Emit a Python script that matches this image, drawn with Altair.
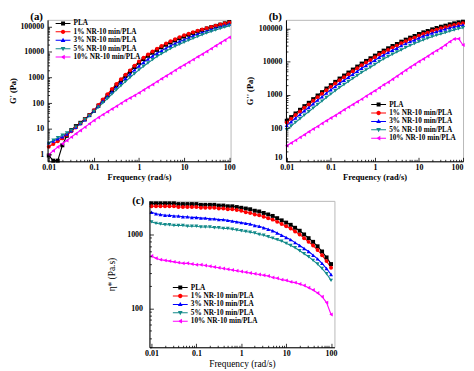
import altair as alt
import pandas as pd

SERIF = "Liberation Serif"

# ---------------- data (log10 units) ----------------
FREQ = [0.01, 0.0126, 0.0158, 0.02, 0.0251, 0.0316, 0.0398, 0.0501, 0.0631, 0.0794,
        0.1, 0.126, 0.158, 0.2, 0.251, 0.316, 0.398, 0.501, 0.631, 0.794,
        1, 1.26, 1.58, 2, 2.51, 3.16, 3.98, 5.01, 6.31, 7.94,
        10, 12.6, 15.8, 20, 25.1, 31.6, 39.8, 50.1, 63.1, 79.4, 100]

SERIES = ["PLA", "1% NR-10 min/PLA", "3% NR-10 min/PLA", "5% NR-10 min/PLA", "10% NR-10 min/PLA"]
COLORS = ["#000000", "#ff0000", "#0000ff", "#138a8a", "#ff00ff"]
SHAPES = ["square", "circle", "triangle-up", "triangle-down", "triangle-left"]

# (a) storage modulus G' (log10 Pa)
GP_PLA = [-0.05, -0.25, -0.25, 0.35, 0.72, 0.95, 1.10, 1.23, 1.37, 1.53,
          1.70, 1.90, 2.10, 2.30, 2.50, 2.70, 2.88, 3.06, 3.23, 3.41,
          3.58, 3.72, 3.85, 3.97, 4.08, 4.18, 4.28, 4.37, 4.45, 4.53,
          4.60, 4.67, 4.74, 4.80, 4.86, 4.92, 4.97, 5.02, 5.07, 5.12, 5.17]
GP_1 = [0.29, 0.40, 0.51, 0.62, 0.75, 0.90, 1.05, 1.20, 1.36, 1.53,
        1.72, 1.93, 2.14, 2.35, 2.55, 2.75, 2.93, 3.11, 3.28, 3.46,
        3.63, 3.77, 3.90, 4.02, 4.13, 4.23, 4.33, 4.42, 4.50, 4.58,
        4.65, 4.71, 4.77, 4.83, 4.88, 4.93, 4.98, 5.03, 5.07, 5.11, 5.15]
GP_3 = [0.45, 0.52, 0.60, 0.68, 0.79, 0.92, 1.05, 1.20, 1.35, 1.52,
        1.70, 1.89, 2.08, 2.26, 2.44, 2.62, 2.80, 2.97, 3.14, 3.30,
        3.45, 3.59, 3.72, 3.84, 3.95, 4.05, 4.15, 4.24, 4.33, 4.41,
        4.48, 4.56, 4.63, 4.70, 4.76, 4.82, 4.88, 4.94, 4.99, 5.04, 5.09]
GP_5 = [0.42, 0.55, 0.65, 0.74, 0.83, 0.94, 1.06, 1.20, 1.35, 1.50,
        1.67, 1.84, 2.01, 2.18, 2.35, 2.52, 2.68, 2.84, 3.00, 3.15,
        3.30, 3.44, 3.57, 3.70, 3.82, 3.93, 4.03, 4.13, 4.22, 4.30,
        4.38, 4.46, 4.53, 4.60, 4.67, 4.74, 4.80, 4.86, 4.92, 4.97, 5.02]
GP_10 = [-0.02, 0.14, 0.28, 0.41, 0.54, 0.67, 0.80, 0.93, 1.06, 1.19,
         1.32, 1.44, 1.55, 1.66, 1.77, 1.88, 1.99, 2.10, 2.20, 2.30,
         2.40, 2.51, 2.62, 2.73, 2.84, 2.95, 3.06, 3.17, 3.28, 3.39,
         3.49, 3.60, 3.70, 3.81, 3.91, 4.02, 4.13, 4.24, 4.35, 4.46, 4.57]

# (b) loss modulus G'' (log10 Pa)
GPP_PLA = [2.22, 2.33, 2.44, 2.55, 2.66, 2.76, 2.87, 2.98, 3.08, 3.19,
           3.29, 3.39, 3.49, 3.58, 3.67, 3.76, 3.85, 3.94, 4.02, 4.10,
           4.18, 4.26, 4.33, 4.40, 4.47, 4.53, 4.60, 4.66, 4.72, 4.77,
           4.83, 4.88, 4.92, 4.97, 5.01, 5.05, 5.08, 5.12, 5.15, 5.18, 5.20]
GPP_1 = [2.17, 2.28, 2.39, 2.50, 2.61, 2.71, 2.82, 2.93, 3.03, 3.14,
         3.24, 3.34, 3.44, 3.53, 3.62, 3.71, 3.80, 3.89, 3.97, 4.05,
         4.13, 4.21, 4.28, 4.35, 4.42, 4.48, 4.55, 4.61, 4.67, 4.72,
         4.78, 4.83, 4.87, 4.92, 4.96, 5.00, 5.03, 5.07, 5.10, 5.13, 5.15]
GPP_3 = [2.08, 2.19, 2.30, 2.41, 2.52, 2.62, 2.73, 2.84, 2.94, 3.05,
         3.15, 3.25, 3.35, 3.44, 3.53, 3.62, 3.71, 3.80, 3.88, 3.96,
         4.04, 4.13, 4.20, 4.27, 4.34, 4.40, 4.48, 4.54, 4.60, 4.65,
         4.71, 4.77, 4.81, 4.86, 4.90, 4.94, 4.98, 5.02, 5.05, 5.08, 5.10]
GPP_5 = [1.95, 2.06, 2.17, 2.28, 2.39, 2.49, 2.60, 2.71, 2.81, 2.92,
         3.02, 3.12, 3.22, 3.31, 3.40, 3.49, 3.58, 3.67, 3.75, 3.83,
         3.91, 4.00, 4.08, 4.15, 4.22, 4.29, 4.35, 4.42, 4.48, 4.54,
         4.60, 4.65, 4.70, 4.75, 4.79, 4.83, 4.87, 4.91, 4.95, 4.99, 5.02]
GPP_10 = [1.47, 1.55, 1.63, 1.72, 1.80, 1.89, 1.97, 2.05, 2.14, 2.22,
          2.30, 2.38, 2.46, 2.55, 2.63, 2.71, 2.79, 2.87, 2.96, 3.04,
          3.12, 3.21, 3.30, 3.38, 3.47, 3.56, 3.65, 3.74, 3.83, 3.91,
          4.00, 4.08, 4.16, 4.25, 4.33, 4.41, 4.50, 4.60, 4.68, 4.69, 4.50]

# (c) complex viscosity eta* (log10 Pa.s)
ETA_PLA = [3.42, 3.42, 3.42, 3.42, 3.42, 3.42, 3.41, 3.41, 3.41, 3.41,
           3.41, 3.40, 3.40, 3.40, 3.40, 3.39, 3.39, 3.38, 3.38, 3.37,
           3.36, 3.35, 3.34, 3.32, 3.31, 3.29, 3.27, 3.25, 3.22, 3.19,
           3.16, 3.13, 3.09, 3.05, 3.00, 2.95, 2.90, 2.84, 2.77, 2.69, 2.60]
ETA_1 = [3.38, 3.38, 3.38, 3.38, 3.38, 3.38, 3.37, 3.37, 3.37, 3.37,
         3.37, 3.36, 3.36, 3.36, 3.36, 3.35, 3.35, 3.34, 3.34, 3.33,
         3.32, 3.30, 3.29, 3.27, 3.26, 3.24, 3.22, 3.20, 3.17, 3.14,
         3.11, 3.08, 3.04, 3.00, 2.95, 2.90, 2.85, 2.79, 2.72, 2.64, 2.55]
ETA_3 = [3.30, 3.28, 3.27, 3.26, 3.26, 3.25, 3.25, 3.24, 3.24, 3.23,
         3.23, 3.22, 3.22, 3.21, 3.21, 3.20, 3.20, 3.19, 3.18, 3.17,
         3.16, 3.15, 3.14, 3.12, 3.11, 3.09, 3.07, 3.05, 3.02, 2.99,
         2.96, 2.93, 2.89, 2.85, 2.81, 2.77, 2.72, 2.67, 2.61, 2.54, 2.46]
ETA_5 = [3.17, 3.15, 3.14, 3.13, 3.13, 3.12, 3.12, 3.12, 3.11, 3.11,
         3.11, 3.10, 3.10, 3.10, 3.09, 3.09, 3.08, 3.08, 3.07, 3.06,
         3.05, 3.04, 3.03, 3.02, 3.00, 2.99, 2.97, 2.95, 2.93, 2.91,
         2.88, 2.85, 2.82, 2.78, 2.74, 2.70, 2.65, 2.60, 2.54, 2.47, 2.38]
ETA_10 = [2.71, 2.68, 2.66, 2.65, 2.64, 2.63, 2.62, 2.61, 2.61, 2.60,
          2.59, 2.59, 2.58, 2.57, 2.56, 2.55, 2.54, 2.53, 2.52, 2.51,
          2.50, 2.49, 2.48, 2.47, 2.46, 2.45, 2.44, 2.42, 2.41, 2.39,
          2.38, 2.36, 2.35, 2.33, 2.31, 2.28, 2.25, 2.21, 2.16, 2.08, 1.92]

# tick values
X_MAJOR = [0.01, 0.1, 1, 10, 100]
X_MINOR = [m * d for d in [0.01, 0.1, 1, 10] for m in range(2, 10)]
YA_MAJOR = [1, 10, 100, 1000, 10000, 100000]
YA_MINOR = [0.6, 0.7, 0.8, 0.9] + [m * d for d in [1, 10, 100, 1000, 10000] for m in range(2, 10)]
YB_MAJOR = [10, 100, 1000, 10000, 100000]
YB_MINOR = [m * d for d in [10, 100, 1000, 10000] for m in range(2, 10)]
YC_MAJOR = [100, 1000]
YC_MINOR = [30, 40, 50, 60, 70, 80, 90, 200, 300, 400, 500, 600, 700, 800, 900, 2000]

# legend glyphs: a short line with the marker on it
_LINE = "M-3,-0.2H3V0.2H-3Z"
LEGEND_PATHS = [
    _LINE + "M-0.8,-0.8H0.8V0.8H-0.8Z",
    _LINE + "M-0.9,0A0.9,0.9,0,1,1,0.9,0A0.9,0.9,0,1,1,-0.9,0Z",
    _LINE + "M0,-1L0.95,0.7H-0.95Z",
    _LINE + "M0,1L-0.95,-0.7H0.95Z",
    _LINE + "M-1,0L0.7,-0.95V0.95Z",
]


def make_frame(series_logs):
    rows = []
    for name, logs in zip(SERIES, series_logs):
        for f, v in zip(FREQ, logs):
            rows.append({"freq": f, "val": 10 ** v, "series": name})
    return pd.DataFrame(rows)


def panel(df, xdom, ydom, ymaj, ymin, ytitle, ptitle, leg_x, leg_y, w, h,
          title_weight, title_size, ylab_pad, ytitle_pad, ptitle_up, yflush, xflush):
    xs = alt.Scale(type="log", domain=xdom, nice=False)
    ys = alt.Scale(type="log", domain=ydom, nice=False)

    x_main = alt.Axis(values=X_MAJOR, orient="bottom",
                      labelExpr="datum.value < 1 ? format(datum.value, '.2~f') : format(datum.value, 'd')",
                      ticks=False, domainColor="black", domainWidth=1, grid=False,
                      labelFont=SERIF, labelFontWeight="bold", labelFontSize=8, labelColor="black",
                      labelPadding=2, labelFlush=xflush, labelFlushOffset=0, labelOverlap=False,
                      title="Frequency (rad/s)", titleFont=SERIF, titleFontWeight=title_weight,
                      titleFontSize=title_size, titleColor="black", titlePadding=1, zindex=2)
    y_main = alt.Axis(values=ymaj, orient="left", format="d",
                      ticks=False, domainColor="black", domainWidth=1, grid=False,
                      labelFont=SERIF, labelFontWeight="bold", labelFontSize=8, labelColor="black",
                      labelPadding=ylab_pad, labelFlush=yflush, labelFlushOffset=0, labelOverlap=False,
                      title=ytitle, titleFont=SERIF, titleFontWeight=title_weight,
                      titleFontSize=title_size, titleColor="black", titlePadding=ytitle_pad, zindex=2)

    def tick_axis(vals, orient, size):
        return alt.Axis(values=vals, orient=orient, labels=False, domain=False, grid=False,
                        ticks=True, tickSize=size, tickColor="black", tickWidth=0.8,
                        offset=-size, title=None, zindex=2)

    # the minor-tick y axis also carries the panel letter, e.g. "(a)"
    y_minor = alt.Axis(values=ymin, orient="left", labels=False, domain=False, grid=False,
                       ticks=True, tickSize=2, tickColor="black", tickWidth=0.8, offset=-2,
                       title=ptitle, titleAngle=0, titleAlign="left", titleBaseline="top",
                       titleX=-20, titleY=-ptitle_up, titleFont=SERIF, titleFontWeight="bold",
                       titleFontSize=11, titleColor="black", zindex=2)

    base = alt.Chart(df)
    layers = []
    for i, (name, col) in enumerate(zip(SERIES, COLORS)):
        xa, ya = (x_main, y_main) if i == 0 else (None, None)
        layers.append(
            base.transform_filter(alt.datum.series == name)
            .mark_line(strokeWidth=1.1, color=col)
            .encode(x=alt.X("freq:Q", scale=xs, axis=xa),
                    y=alt.Y("val:Q", scale=ys, axis=ya))
        )
    for i, (name, col, shp) in enumerate(zip(SERIES, COLORS, SHAPES)):
        if i == 0:
            xa, ya = tick_axis(X_MINOR, "bottom", 2), y_minor
        elif i == 1:
            xa, ya = tick_axis(X_MAJOR, "bottom", 4), tick_axis(ymaj, "left", 4)
        else:
            xa, ya = None, None
        layers.append(
            base.transform_filter(alt.datum.series == name)
            .mark_point(filled=True, shape=shp, size=16, color=col, opacity=1)
            .encode(x=alt.X("freq:Q", scale=xs, axis=xa),
                    y=alt.Y("val:Q", scale=ys, axis=ya))
        )
    leg_props = dict(orient="none", legendX=leg_x, legendY=leg_y, title=None,
                     labelFont=SERIF, labelFontWeight="bold", labelFontSize=7.3,
                     labelColor="black", labelOffset=7, labelLimit=300,
                     symbolSize=25, symbolStrokeWidth=0, symbolOpacity=1,
                     rowPadding=0.5, padding=0)
    layers.append(
        base.transform_filter("false")
        .mark_point(filled=True, opacity=1, size=25)
        .encode(x=alt.X("freq:Q", scale=xs, axis=None),
                y=alt.Y("val:Q", scale=ys, axis=None),
                color=alt.Color("series:N", scale=alt.Scale(domain=SERIES, range=COLORS),
                                legend=alt.Legend(**leg_props)),
                shape=alt.Shape("series:N", scale=alt.Scale(domain=SERIES, range=LEGEND_PATHS),
                                legend=alt.Legend(**leg_props)))
    )
    return (alt.layer(*layers)
            .resolve_axis(x="independent", y="independent")
            .properties(width=w, height=h))


df_a = make_frame([GP_PLA, GP_1, GP_3, GP_5, GP_10])
df_b = make_frame([GPP_PLA, GPP_1, GPP_3, GPP_5, GPP_10])
df_c = make_frame([ETA_PLA, ETA_1, ETA_3, ETA_5, ETA_10])

pa = panel(df_a, [0.0094, 107], [0.53, 180000], YA_MAJOR, YA_MINOR, "G' (Pa)", "(a)",
           12, 0, 185, 143, "bold", 8.5, 4, 2, 9, False, False)
pb = panel(df_b, [0.0096, 100.4], [10, 180000], YB_MAJOR, YB_MINOR, "G'' (Pa)", "(b)",
           90, 82, 179, 143, "bold", 8.5, 4, 4, 9, True, 0.4)
pc = panel(df_c, [0.009, 119], [30, 2840], YC_MAJOR, YC_MINOR, "η* (Pa.s)", "(c)",
           27.5, 84, 187, 148, "normal", 9.5, 7, 10, 6, False, False)

spacer = (alt.Chart(pd.DataFrame({"v": [1]}))
          .mark_point(opacity=0)
          .encode(x=alt.X("v:Q", axis=None), y=alt.Y("v:Q", axis=None))
          .properties(width=56, height=10, view=alt.ViewBackground(strokeOpacity=0)))

top_row = alt.hconcat(pa, pb, spacing=8).resolve_scale(color="independent", shape="independent")
bottom_row = alt.hconcat(spacer, pc, spacing=0).resolve_scale(color="independent", shape="independent")

chart = (alt.vconcat(top_row, bottom_row, spacing=13)
         .resolve_scale(color="independent", shape="independent")
         .properties(padding=0, background="white")
         .configure_view(stroke="#b8b8b8", strokeWidth=1))

chart.save("out.html", embed_options={"renderer": "svg", "actions": False})
